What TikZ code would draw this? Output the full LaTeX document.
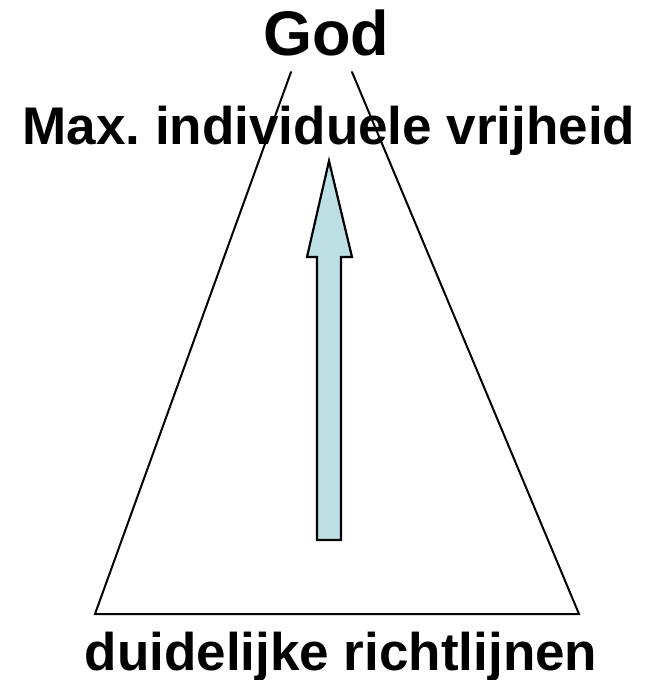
\documentclass[tikz,border=0pt]{standalone}
\usepackage{fontspec}
\setmainfont{Liberation Sans}
\usetikzlibrary{positioning}
\definecolor{arrowcol}{RGB}{188,224,228}
\frenchspacing
\begin{document}
\begin{tikzpicture}[
  x=1pt,y=-1pt,
  lbl/.style={anchor=base,inner sep=0pt,font=\bfseries},
  side/.style={line width=2pt,line cap=round},
  fatarr/.style={draw=black,fill=arrowcol,line width=2.2pt,line join=miter}
]
\useasboundingbox (0,0) rectangle (646,680);
% labels
\node[lbl,font=\fontsize{63}{70}\bfseries\selectfont] (god) at (326,55) {God};
\node[lbl,font=\fontsize{53}{60}\bfseries\selectfont] (max) at (329,144) {Max. individuele vrijheid};
\node[lbl,font=\fontsize{53}{60}\bfseries\selectfont] (rules) at (341,670) {duidelijke richtlijnen};
% triangle, open at the top
\coordinate (tl) at (291,72);
\coordinate (tr) at (352,72);
\coordinate (bl) at (95,614);
\coordinate (br) at (579,614);
\draw[side] (tl) -- (bl) -- (br) -- (tr);
% block arrow
\draw[fatarr] (317,540) -- (317,257) -- (307,257) -- (329,161)
  -- (352,257) -- (341,257) -- (341,540) -- cycle;
\end{tikzpicture}
\end{document}
